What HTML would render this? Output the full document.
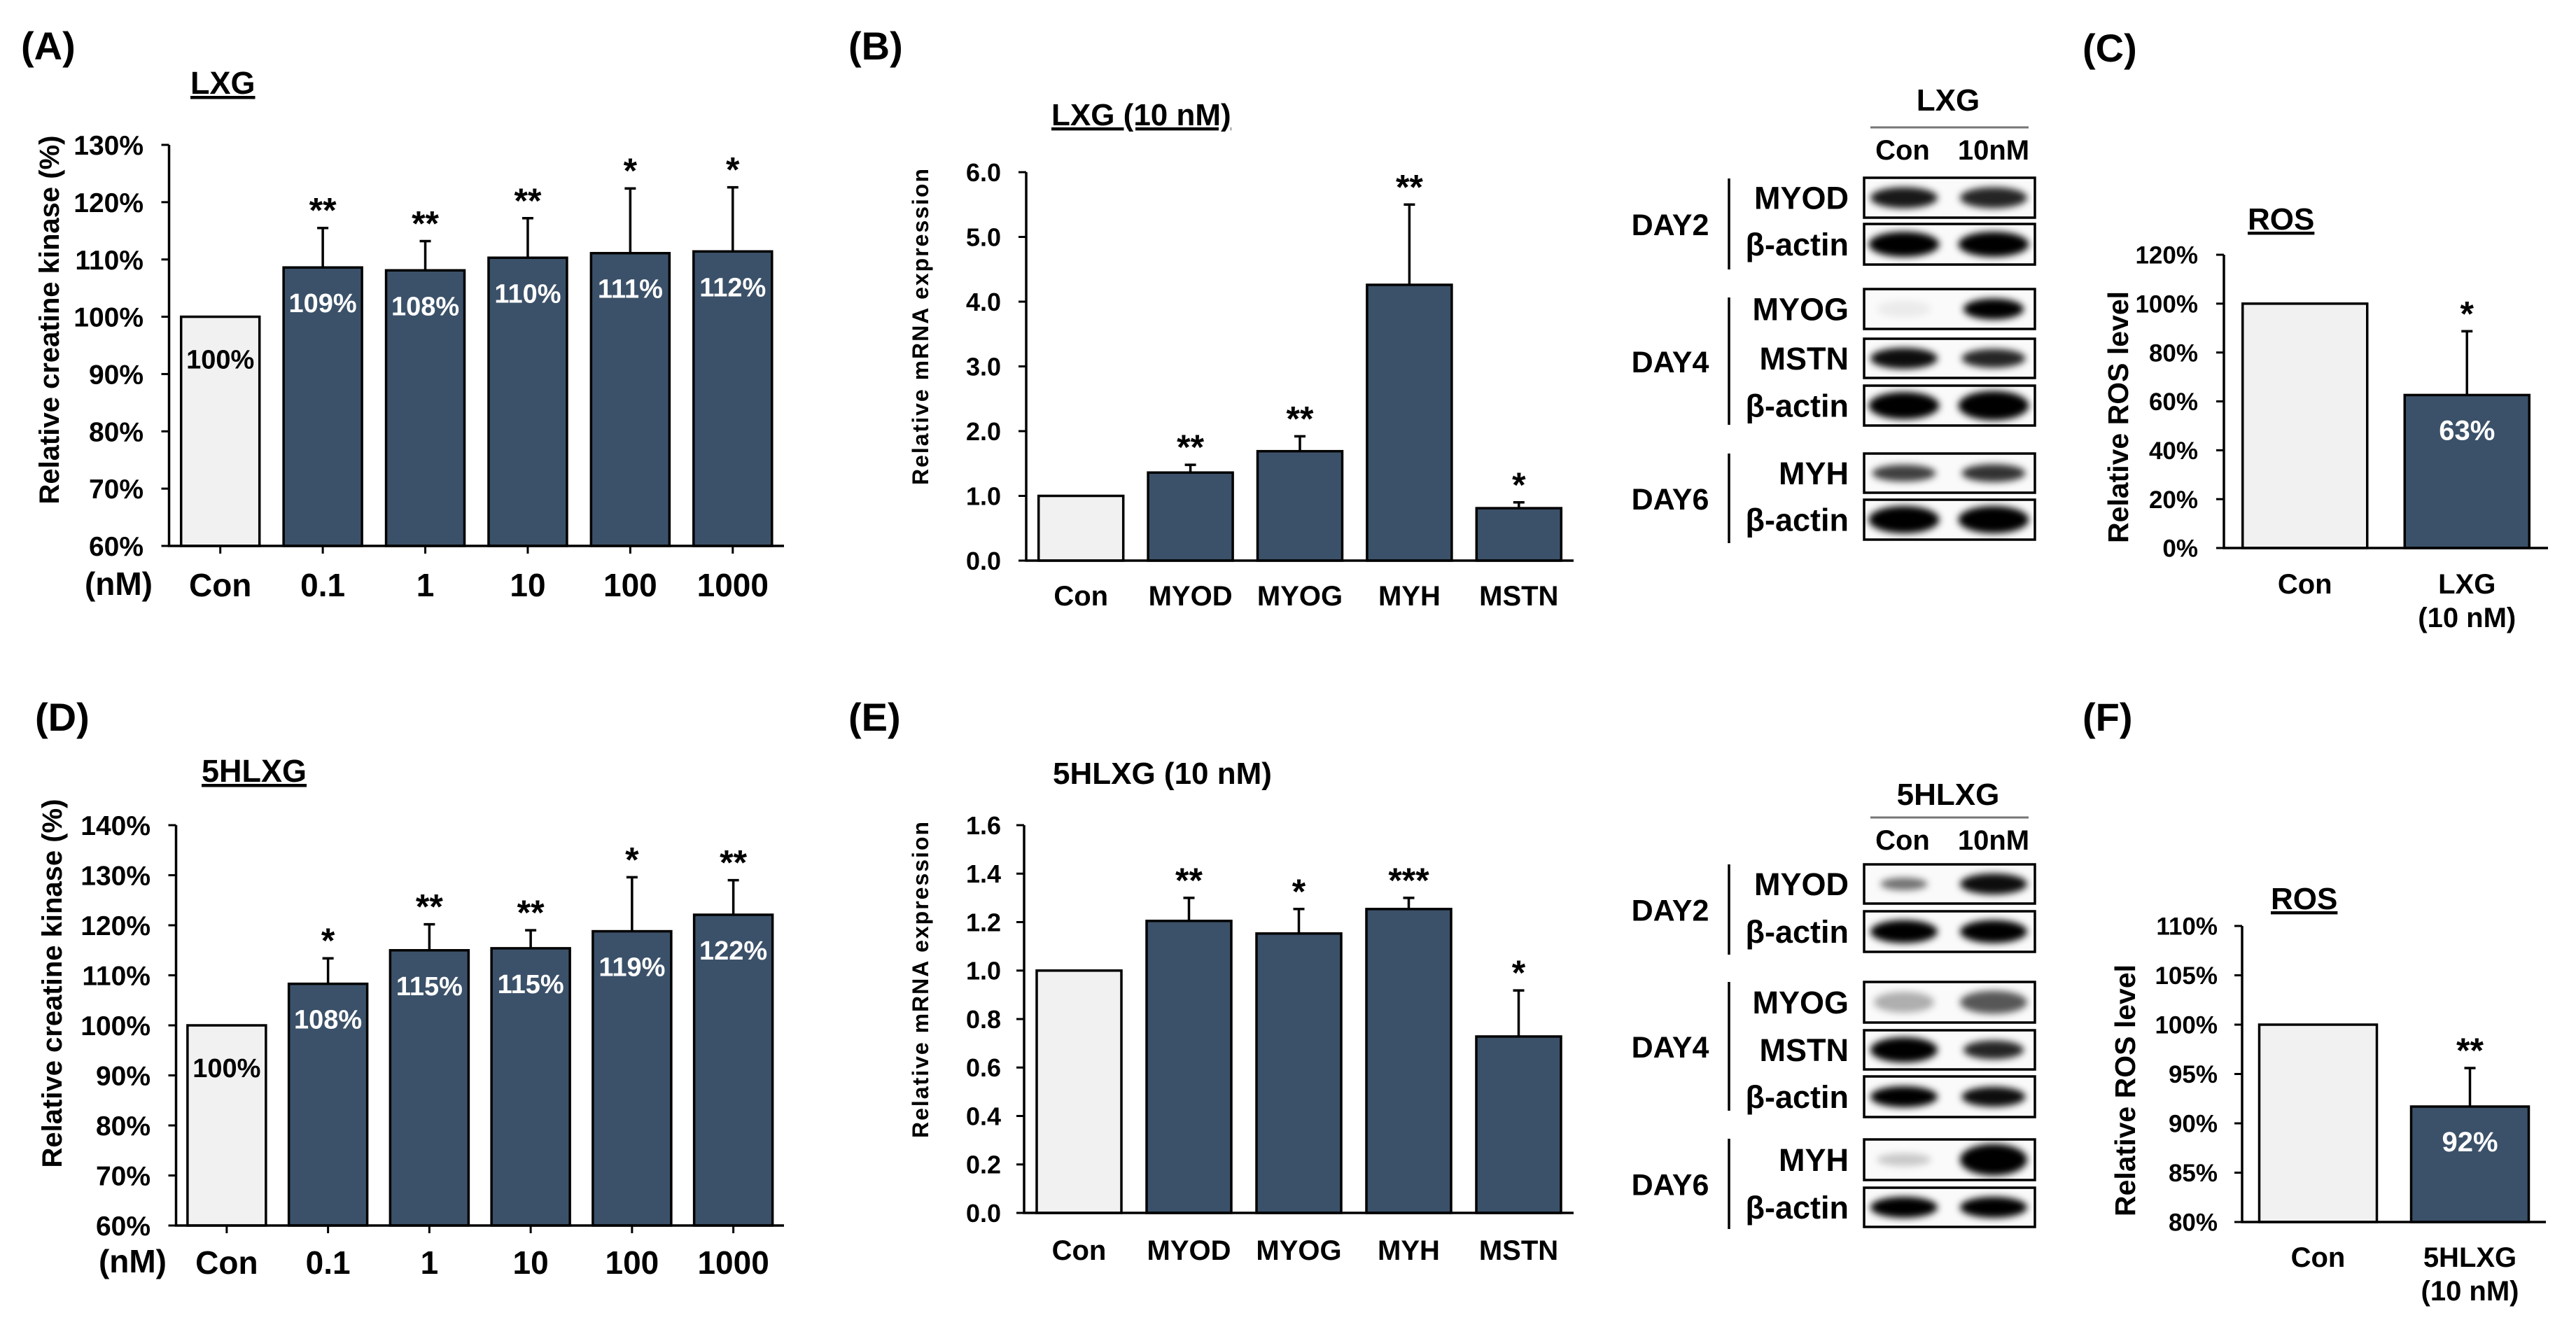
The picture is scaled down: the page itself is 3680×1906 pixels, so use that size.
<!DOCTYPE html>
<html><head><meta charset="utf-8">
<style>
html,body{margin:0;padding:0;background:#fff;}
svg{display:block;}
text{font-family:"Liberation Sans",Arial,sans-serif;font-weight:bold;fill:#000;}
</style></head>
<body>
<svg id="fig" width="3680" height="1906" viewBox="0 0 3680 1906" xmlns="http://www.w3.org/2000/svg">
<defs><filter id="blur" x="-30%" y="-60%" width="160%" height="220%"><feGaussianBlur stdDeviation="5"/></filter></defs>
<rect x="0" y="0" width="3680" height="1906" fill="#fff"/>
<text x="30" y="85" font-size="56">(A)</text>
<text x="1212" y="85" font-size="56">(B)</text>
<text x="2975" y="88" font-size="56">(C)</text>
<text x="50" y="1044" font-size="56">(D)</text>
<text x="1212" y="1044" font-size="56">(E)</text>
<text x="2975" y="1044" font-size="56">(F)</text>
<text x="272" y="134" font-size="45" text-decoration="underline">LXG</text>
<text x="1502" y="179" font-size="44" text-decoration="underline">LXG (10 nM)</text>
<text x="3211" y="328" font-size="44" text-decoration="underline">ROS</text>
<text x="288" y="1117" font-size="45" text-decoration="underline">5HLXG</text>
<text x="1504" y="1120" font-size="44">5HLXG (10 nM)</text>
<text x="3244" y="1299" font-size="44" text-decoration="underline">ROS</text>
<text x="218" y="850" font-size="46" text-anchor="end">(nM)</text>
<text x="238" y="1818" font-size="46" text-anchor="end">(nM)</text>
<text transform="translate(84,457) rotate(-90)" font-size="40" text-anchor="middle">Relative creatine kinase (%)</text>
<text transform="translate(88,1405) rotate(-90)" font-size="40" text-anchor="middle">Relative creatine kinase (%)</text>
<text transform="translate(1326,466) rotate(-90)" font-size="32" letter-spacing="2" text-anchor="middle">Relative mRNA expression</text>
<text transform="translate(1326,1399) rotate(-90)" font-size="32" letter-spacing="2" text-anchor="middle">Relative mRNA expression</text>
<text transform="translate(3040,596) rotate(-90)" font-size="41" text-anchor="middle">Relative ROS level</text>
<text transform="translate(3050,1558) rotate(-90)" font-size="41" text-anchor="middle">Relative ROS level</text>
</svg>
<script>
// ---------- chart data ----------
const aCats=['Con','0.1','1','10','100','1000'];
const aVals=[100,108.6,108.1,110.3,111.1,111.4];
const aErrTop=[null,115.5,113.2,117.2,122.4,122.6];
const aStars=['','**','**','**','*','*'];
const aValueLabels=['100%','109%','108%','110%','111%','112%'];
const aTicks=[60,70,80,90,100,110,120,130];

const bCats=['Con','MYOD','MYOG','MYH','MSTN'];
const bVals=[1.0,1.36,1.69,4.26,0.81];
const bErrTop=[null,1.48,1.92,5.50,0.90];
const bStars=['','**','**','**','*'];
const bTicks=[0,1,2,3,4,5,6];
const bTickLabels=['0.0','1.0','2.0','3.0','4.0','5.0','6.0'];

const cCats=['Con','LXG'];
const cVals=[100,62.6];
const cErrTop=[null,88.7];
const cStars=['','*'];
const cValueLabels=['','63%'];
const cTicks=[0,20,40,60,80,100,120];

const dCats=['Con','0.1','1','10','100','1000'];
const dVals=[100,108.3,115.0,115.4,118.8,122.1];
const dErrTop=[null,113.4,120.2,119.0,129.6,129.0];
const dStars=['','*','**','**','*','**'];
const dValueLabels=['100%','108%','115%','115%','119%','122%'];
const dTicks=[60,70,80,90,100,110,120,130,140];

const eCats=['Con','MYOD','MYOG','MYH','MSTN'];
const eVals=[1.0,1.205,1.153,1.254,0.728];
const eErrTop=[null,1.30,1.254,1.30,0.918];
const eStars=['','**','*','***','*'];
const eTicks=[0,0.2,0.4,0.6,0.8,1.0,1.2,1.4,1.6];
const eTickLabels=['0.0','0.2','0.4','0.6','0.8','1.0','1.2','1.4','1.6'];

const fCats=['Con','5HLXG'];
const fVals=[100,91.7];
const fErrTop=[null,95.6];
const fStars=['','**'];
const fValueLabels=['','92%'];
const fTicks=[80,85,90,95,100,105,110];

const NS='http://www.w3.org/2000/svg';
const svg=document.getElementById('fig');
function mk(tag,attrs,parent){const e=document.createElementNS(NS,tag);for(const k in attrs)e.setAttribute(k,attrs[k]);(parent||svg).appendChild(e);return e;}

function drawChart(id,cfg,cats,vals,errTop,stars,valueLabels,ticks,tickLabels){
  const g=mk('g',{});
  
  
  const yS=v=>cfg.yBot-(v-cfg.min)/(cfg.max-cfg.min)*(cfg.yBot-cfg.yTop);
  const band=(cfg.x1-cfg.x0)/cats.length;
  const xC=i=>cfg.x0+band*(i+0.5);
  for(let i=0;i<cats.length;i++){
    const top=yS(vals[i]);
    const r=mk('rect',{x:xC(i)-cfg.barW/2,y:top,width:cfg.barW,height:cfg.yBot-top,fill:i===0?'#f1f1f1':'#3b5169',stroke:'#000','stroke-width':3.5},g);
    
    
    if(errTop[i]!=null){
      const e=mk('path',{d:'M'+xC(i)+' '+top+'V'+yS(errTop[i])+'M'+(xC(i)-8)+' '+yS(errTop[i])+'H'+(xC(i)+8),stroke:'#000','stroke-width':3.5,fill:'none'},g);
      
      
    }
    if(stars[i]){
      const s=mk('text',{x:xC(i),y:yS(errTop[i])-8,'font-size':50,'text-anchor':'middle'},g);
      s.textContent=stars[i];
      
      
    }
    if(valueLabels&&valueLabels[i]){
      const t=mk('text',{x:xC(i),y:top+(i===0?74:64),'font-size':cfg.valFont,'text-anchor':'middle'},g);
      t.style.fill=i===0?'#000':'#fff';
      t.textContent=valueLabels[i];
      
      
    }
    if(cfg.catTicks){
      const tk=mk('line',{x1:xC(i),x2:xC(i),y1:cfg.yBot,y2:cfg.yBot+11,stroke:'#000','stroke-width':3},g);
      
      
    }
    const lines=cfg.catLines?cfg.catLines[i]:[cats[i]];
    lines.forEach((ln,k)=>{
      const c=mk('text',{x:xC(i),y:cfg.catY+k*48,'font-size':cfg.catFont,'text-anchor':'middle'},g);
      c.textContent=ln;
      
      
    });
  }
  const ax=mk('path',{d:'M'+cfg.x0+' '+cfg.yTop+'V'+cfg.yBot+'H'+cfg.x1,stroke:'#000','stroke-width':3.5,fill:'none'},g);
  
  
  ticks.forEach((v,k)=>{
    const tl=mk('line',{x1:cfg.x0-11,x2:cfg.x0,y1:yS(v),y2:yS(v),stroke:'#000','stroke-width':3},g);
    
    
    const t=mk('text',{x:cfg.tickRight,y:yS(v)+cfg.tickFont*0.36,'font-size':cfg.tickFont,'text-anchor':'end'},g);
    t.textContent=tickLabels?tickLabels[k]:v+'%';
    
    
  });
}

drawChart('a',{x0:241.5,x1:1120,yTop:207,yBot:780,min:60,max:130,barW:112,tickFont:39,tickRight:205,catY:852,catFont:46,catTicks:true,valFont:38},aCats,aVals,aErrTop,aStars,aValueLabels,aTicks,null);
drawChart('d',{x0:251.5,x1:1120,yTop:1179,yBot:1751,min:60,max:140,barW:112,tickFont:39,tickRight:215,catY:1820,catFont:46,catTicks:true,valFont:38},dCats,dVals,dErrTop,dStars,dValueLabels,dTicks,null);
drawChart('b',{x0:1466,x1:2248,yTop:246,yBot:801,min:0,max:6,barW:121,tickFont:36,tickRight:1430,catY:865,catFont:40,catTicks:false,valFont:37},bCats,bVals,bErrTop,bStars,null,bTicks,bTickLabels);
drawChart('e',{x0:1463,x1:2248,yTop:1179,yBot:1733,min:0,max:1.6,barW:121,tickFont:36,tickRight:1430,catY:1800,catFont:40,catTicks:false,valFont:37},eCats,eVals,eErrTop,eStars,null,eTicks,eTickLabels);
drawChart('c',{x0:3177,x1:3640,yTop:364,yBot:783,min:0,max:120,barW:178,tickFont:35,tickRight:3140,catY:848,catFont:40,catTicks:false,valFont:40,catLines:[['Con'],['LXG','(10 nM)']]},cCats,cVals,cErrTop,cStars,cValueLabels,cTicks,null);
drawChart('f',{x0:3203,x1:3637,yTop:1323,yBot:1746,min:80,max:110,barW:168,tickFont:35,tickRight:3168,catY:1810,catFont:40,catTicks:false,valFont:40,catLines:[['Con'],['5HLXG','(10 nM)']]},fCats,fVals,fErrTop,fStars,fValueLabels,fTicks,null);

// ---------- western blots ----------
function drawBlot(id,hdr,hdrY,lineY,laneY,rows,groups){
  const g=mk('g',{});
  
  
  const h=mk('text',{x:2783,y:hdrY,'font-size':44,'text-anchor':'middle'},g);
  h.textContent=hdr;
  
  
  const l=mk('line',{x1:2672,x2:2898,y1:lineY,y2:lineY,stroke:'#777','stroke-width':3},g);
  
  
  [['Con',2718],['10nM',2848]].forEach(p=>{
    const t=mk('text',{x:p[1],y:laneY,'font-size':40,'text-anchor':'middle'},g);
    t.textContent=p[0];
    
    
  });
  rows.forEach(r=>{
    const box=mk('rect',{x:2663,y:r[1],width:244,height:r[2]-r[1],fill:'#fafafa',stroke:'#000','stroke-width':3.5},g);
    
    
    const cy=(r[1]+r[2])/2;
    [[2720,r[3]],[2848,r[4]]].forEach(b=>{
      const el=mk('ellipse',{cx:b[0],cy:cy,rx:48*b[1][1],ry:15*b[1][2],fill:'#000','fill-opacity':b[1][0],filter:'url(#blur)'},g);
      
      
    });
    const t=mk('text',{x:2641,y:cy+16,'font-size':45,'text-anchor':'end'},g);
    t.textContent=r[0];
    
    
  });
  groups.forEach(gr=>{
    const v=mk('line',{x1:2470,x2:2470,y1:gr[1],y2:gr[2],stroke:'#000','stroke-width':3.5},g);
    
    
    const t=mk('text',{x:2386,y:(gr[1]+gr[2])/2+16,'font-size':43,'text-anchor':'middle'},g);
    t.textContent=gr[0];
    
    
  });
}
drawBlot('lxg','LXG',158,182,228,[
  ['MYOD',254,311,[0.9,1,1],[0.85,1,1]],
  ['β-actin',320,378,[1,1.05,1.2],[1,1.05,1.2]],
  ['MYOG',413,470,[0.06,0.8,0.8],[1,0.9,1]],
  ['MSTN',484,540,[0.95,1,1],[0.85,0.95,0.9]],
  ['β-actin',551,608,[1,1.05,1.3],[1,1.05,1.4]],
  ['MYH',648,704,[0.75,0.95,0.8],[0.8,0.95,0.85]],
  ['β-actin',714,771,[1,1.05,1.3],[1,1.05,1.3]]
],[['DAY2',255,385],['DAY4',425,607],['DAY6',648,776]]);
drawBlot('5hlxg','5HLXG',1150,1168,1214,[
  ['MYOD',1235,1291,[0.55,0.7,0.6],[0.95,1,1]],
  ['β-actin',1302,1360,[1,1,1.1],[1,1,1.1]],
  ['MYOG',1403,1461,[0.3,0.9,1],[0.65,1,1.1]],
  ['MSTN',1472,1528,[1,1,1.2],[0.85,0.9,0.9]],
  ['β-actin',1538,1596,[1,1,1],[0.95,0.95,0.95]],
  ['MYH',1628,1686,[0.2,0.8,0.6],[1,1,1.5]],
  ['β-actin',1697,1753,[1,1,1],[1,1,1]]
],[['DAY2',1235,1364],['DAY4',1403,1587],['DAY6',1627,1756]]);
</script>
</body></html>
